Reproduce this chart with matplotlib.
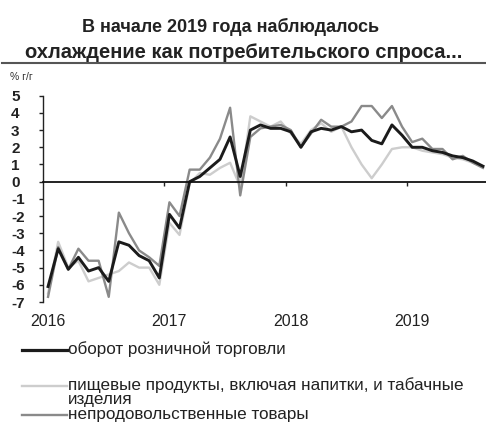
import numpy as np
import matplotlib
matplotlib.use('Agg')
import matplotlib.pyplot as plt
from matplotlib.lines import Line2D

plt.rcParams['font.family'] = ['Liberation Sans', 'DejaVu Sans']

# Monthly data, Jan 2016 - Aug 2019, % y/y
retail = [-6.1, -3.9, -5.1, -4.4, -5.2, -5.0, -5.8, -3.5, -3.7, -4.3, -4.6, -5.6,
          -1.9, -2.7, 0.0, 0.3, 0.8, 1.3, 2.6, 0.3, 3.0, 3.3, 3.1, 3.1,
          2.9, 2.0, 2.9, 3.1, 3.0, 3.2, 2.9, 3.0, 2.4, 2.2, 3.3, 2.7,
          2.0, 2.0, 1.8, 1.7, 1.5, 1.4, 1.2, 0.9]
food = [-6.5, -3.5, -5.0, -4.6, -5.8, -5.6, -5.4, -5.2, -4.7, -5.0, -5.0, -6.0,
        -2.4, -3.1, -0.1, 0.5, 0.4, 0.8, 1.1, -0.3, 3.8, 3.5, 3.2, 3.5,
        2.8, 2.2, 3.0, 3.4, 2.9, 3.2, 2.0, 1.0, 0.2, 1.0, 1.9, 2.0,
        2.0, 1.8, 1.7, 1.6, 1.4, 1.3, 1.1, 0.9]
nonfood = [-6.7, -3.8, -5.1, -3.9, -4.6, -4.6, -6.7, -1.8, -3.0, -4.0, -4.4, -4.9,
           -1.2, -2.0, 0.7, 0.7, 1.4, 2.5, 4.3, -0.8, 2.6, 3.1, 3.2, 3.3,
           3.0, 2.0, 2.8, 3.6, 3.2, 3.2, 3.5, 4.4, 4.4, 3.7, 4.4, 3.2,
           2.3, 2.5, 1.9, 1.9, 1.3, 1.5, 1.1, 0.8]
year_labels = ['2016', '2017', '2018', '2019']
series_labels = ['оборот розничной торговли',
                 'пищевые продукты, включая напитки, и табачные\nизделия',
                 'непродовольственные товары']

C_RETAIL = '#1b1b1b'
C_FOOD = '#cdcdcd'
C_NONFOOD = '#8a8a8a'

W, H = 486, 425
fig = plt.figure(figsize=(W / 100, H / 100), dpi=100)
ax = fig.add_axes([43 / W, 123 / H, 443 / W, 206.3 / H])

x = np.arange(len(retail))
ax.plot(x, food, color=C_FOOD, lw=1.7, solid_joinstyle='round')
ax.plot(x, nonfood, color=C_NONFOOD, lw=1.7, solid_joinstyle='round')
ax.plot(x, retail, color=C_RETAIL, lw=2.1, solid_joinstyle='round')

ax.set_xlim(-0.5, 43.3)
ax.set_ylim(-7, 5)
for s in ['top', 'right']:
    ax.spines[s].set_visible(False)
ax.spines['left'].set_color('#222222')
ax.spines['left'].set_linewidth(1.0)
ax.spines['bottom'].set_position(('data', 0))
ax.spines['bottom'].set_color('#111111')
ax.spines['bottom'].set_linewidth(1.3)

ax.set_xticks([11.5, 23.5, 35.5])
ax.tick_params(axis='x', direction='out', length=3, width=1, color='#222222',
               labelbottom=False)

ax.set_yticks(range(-7, 6))
ax.set_yticklabels([str(v) for v in range(-7, 6)])
ax.tick_params(axis='y', direction='out', length=3, width=1, color='#222222',
               pad=20, labelsize=11)
for lab in ax.get_yticklabels():
    lab.set_ha('left')
    lab.set_fontweight('bold')
    lab.set_color('#222222')

sec = ax.secondary_xaxis('bottom')
sec.set_xticks([0, 12, 24, 36])
sec.set_xticklabels(year_labels)
sec.spines['bottom'].set_visible(False)
sec.tick_params(length=0, pad=9, labelsize=11.5, labelcolor='#222222')

fig.text(231 / W, 1 - 27 / H, 'В начале 2019 года наблюдалось', ha='center',
         va='center', fontsize=13, fontweight='bold', color='#222222')
fig.text(243.5 / W, 1 - 53 / H, 'охлаждение как потребительского спроса...',
         ha='center', va='center', fontsize=14.5, fontweight='bold', color='#222222')
fig.add_artist(Line2D([0.004, 1.0], [1 - 62.5 / H] * 2, transform=fig.transFigure,
                      color='#555555', lw=1.5))
fig.text(10 / W, 1 - 77 / H, '% г/г', ha='left', va='center', fontsize=7.5,
         color='#333333')

# Legend
colors = [C_RETAIL, C_FOOD, C_NONFOOD]
widths = [2.3, 1.7, 1.7]
ys = [350, 386, 415]
for lab, c, lw, yy in zip(series_labels, colors, widths, ys):
    fig.add_artist(Line2D([22 / W, 67 / W], [1 - yy / H] * 2,
                          transform=fig.transFigure, color=c, lw=lw))
    fig.text(68 / W, 1 - (yy - 8.5) / H, lab, ha='left', va='top', fontsize=12.3,
             color='#222222', linespacing=0.85)

fig.savefig('out.png', dpi=100)
